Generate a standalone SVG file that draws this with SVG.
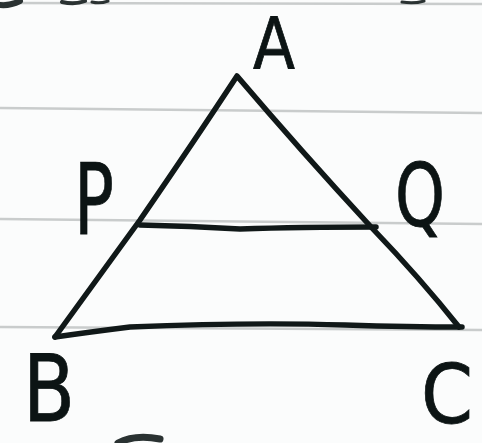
<svg xmlns="http://www.w3.org/2000/svg" width="482" height="443" viewBox="0 0 482 443">
<style>
.rule{stroke:#c9cccc;stroke-width:2.5;fill:none}
.ink{stroke:#101818;stroke-width:5.5;fill:none;stroke-linecap:round;stroke-linejoin:round}
.frag{stroke:#2a3232;fill:none;stroke-linecap:round}
.lbl{font-family:"DejaVu Sans","Liberation Sans",sans-serif;fill:#0c1414;stroke:#0c1414;stroke-width:0.8}
</style>
<rect width="482" height="443" fill="#fbfcfc"/>
<g id="paper">
<path class="rule" d="M0 3 L482 4"/>
<path class="rule" d="M0 108 L482 113"/>
<path class="rule" d="M0 219 L482 224"/>
<path class="rule" d="M0 327 L482 330"/>
<path class="frag" d="M0 5 Q10 6 20 1" stroke-width="6"/>
<path class="frag" d="M62 2 Q75 5 85 1" stroke-width="4"/>
<path class="frag" d="M92 2 Q100 4 108 1" stroke-width="3"/>
<path class="frag" d="M402 2 Q414 4 424 1" stroke-width="3"/>
<path class="frag" d="M118 443 Q135 434 160 439" stroke-width="7"/>
</g>
<g id="triangle">
<path class="ink" d="M55 337 Q100 275 140 220 Q195 140 237 76 Q300 150 372 228 Q420 278 459 327"/>
<path class="ink" d="M55 337 Q90 332 130 327 Q250 322 345 325 Q410 327 462 327"/>
</g>
<g id="segment-PQ">
<path class="ink" d="M140 225 Q190 226 240 229 Q300 227 376 227"/>
</g>
<g id="labels">
<text class="lbl" x="274" y="68" font-size="72" text-anchor="middle" textLength="42" lengthAdjust="spacingAndGlyphs">A</text>
<text class="lbl" x="94" y="234" font-size="98" text-anchor="middle" textLength="40" lengthAdjust="spacingAndGlyphs">P</text>
<text class="lbl" x="420" y="226" font-size="88" text-anchor="middle" textLength="50" lengthAdjust="spacingAndGlyphs">Q</text>
<text class="lbl" x="49" y="421" font-size="92" text-anchor="middle" textLength="52" lengthAdjust="spacingAndGlyphs">B</text>
<text class="lbl" x="447" y="423" font-size="82" text-anchor="middle" textLength="52" lengthAdjust="spacingAndGlyphs">C</text>
</g>
</svg>
